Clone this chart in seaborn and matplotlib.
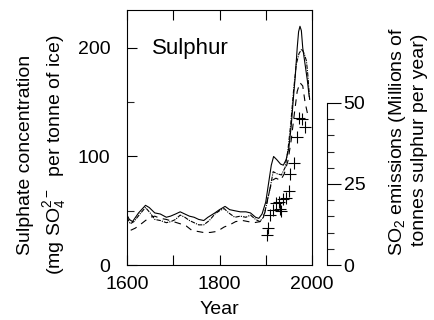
import matplotlib
matplotlib.use("Agg")
import matplotlib.pyplot as plt
from matplotlib.ticker import FixedLocator
import seaborn as sns
import pandas as pd

# sulphate records (mg SO4 per tonne of ice)
years_solid = [1600, 1605, 1612, 1625, 1640, 1648, 1660, 1672, 1685, 1694, 1705, 1715,
               1725, 1735, 1745, 1755, 1766, 1775, 1790, 1800, 1812, 1822, 1833, 1845,
               1857, 1867, 1878, 1885, 1892, 1900, 1906, 1912, 1917, 1924, 1932, 1938,
               1944, 1950, 1955, 1960, 1964, 1968, 1971, 1974, 1977, 1980, 1985, 1990, 1994]
conc_solid = [46, 42, 40, 48, 55, 53, 48, 47, 44, 45, 47, 49,
              47, 45, 44, 42, 41, 44, 48, 51, 54, 51, 50, 49,
              49, 48, 44, 43, 47, 58, 75, 92, 100, 97, 93, 92,
              97, 108, 128, 155, 175, 200, 215, 220, 216, 200, 185, 170, 155]

years_dashdot = [1600, 1607, 1615, 1628, 1640, 1650, 1660, 1672, 1685, 1695, 1705, 1715,
                 1725, 1735, 1745, 1755, 1766, 1778, 1790, 1800, 1810, 1820, 1833, 1845,
                 1857, 1867, 1878, 1887, 1895, 1902, 1910, 1916, 1925, 1934, 1942, 1948,
                 1954, 1960, 1966, 1972, 1978, 1983, 1988, 1991, 1995]
conc_dashdot = [44, 38, 40, 47, 53, 48, 42, 41, 39, 40, 42, 46,
                44, 41, 39, 37, 37, 41, 47, 50, 52, 48, 44, 45,
                44, 46, 42, 40, 44, 56, 72, 86, 84, 83, 90, 106,
                130, 160, 185, 195, 199, 195, 188, 175, 152]

years_dashed = [1608, 1618, 1628, 1640, 1650, 1660, 1672, 1685, 1700, 1715, 1728, 1740,
                1752, 1765, 1780, 1795, 1810, 1822, 1835, 1850, 1862, 1875, 1888, 1898,
                1906, 1914, 1922, 1932, 1940, 1948, 1955, 1962, 1968, 1974, 1980, 1985, 1990]
conc_dashed = [32, 34, 37, 41, 44, 45, 43, 42, 40, 38, 36, 32,
               31, 30, 30, 31, 35, 37, 40, 41, 40, 39, 40, 48,
               65, 78, 80, 78, 84, 96, 115, 140, 160, 168, 165, 150, 140]

# SO2 emissions (millions of tonnes sulphur per year), right-hand scale
emis_years = [1902, 1905, 1910, 1916, 1923, 1928, 1930, 1934, 1938, 1943,
              1950, 1953, 1961, 1967, 1972, 1978, 1985]
emis_values = [9.3, 11.3, 15.4, 17.0, 19.0, 19.3, 17.2, 16.8, 20.3, 20.8,
               22.9, 28.2, 31.4, 39.6, 45.3, 45.1, 42.5]

sns.set_theme(style="ticks")
plt.rcParams["font.family"] = ["Liberation Sans", "DejaVu Sans"]
plt.rcParams["mathtext.fontset"] = "custom"
plt.rcParams["mathtext.rm"] = "Liberation Sans"
plt.rcParams["mathtext.it"] = "Liberation Sans:italic"
plt.rcParams["axes.linewidth"] = 0.8
plt.rcParams["text.color"] = "black"
plt.rcParams["axes.labelcolor"] = "black"

W, H = 434, 320
fig = plt.figure(figsize=(W / 100, H / 100), dpi=100)
ax = fig.add_axes([127 / W, 55 / H, 185 / W, 255 / H])

df_solid = pd.DataFrame({"Year": years_solid, "conc": conc_solid})
df_dd = pd.DataFrame({"Year": years_dashdot, "conc": conc_dashdot})
df_dash = pd.DataFrame({"Year": years_dashed, "conc": conc_dashed})

sns.lineplot(data=df_solid, x="Year", y="conc", color="black", lw=0.8, ax=ax)
sns.lineplot(data=df_dd, x="Year", y="conc", color="black", lw=0.8,
             linestyle=(0, (4, 1, 1, 1)), ax=ax)
sns.lineplot(data=df_dash, x="Year", y="conc", color="black", lw=0.8,
             linestyle=(0, (6, 5)), ax=ax)

ax.set_xlim(1600, 2000)
ax.set_ylim(0, 235)
ax.set_xticks([1600, 1700, 1800, 1900, 2000])
ax.set_xticklabels(["1600", "", "1800", "", "2000"])
ax.set_yticks([0, 100, 200])
ax.yaxis.set_minor_locator(FixedLocator([50, 150]))
ax.tick_params(axis="x", which="major", direction="in", top=True, length=7,
               width=0.8, pad=8, labelsize=14, colors="black")
ax.tick_params(axis="y", which="major", direction="in", right=False, length=7,
               width=0.8, pad=12, labelsize=14, colors="black")
ax.tick_params(axis="y", which="minor", direction="in", right=False, length=5, width=0.8)
for s in ax.spines.values():
    s.set_color("black")
ax.set_xlabel("")
ax.set_ylabel("")
ax.text(1653, 194.5, "Sulphur", fontsize=16, va="baseline", ha="left")

# secondary emission scale, drawn as a detached spine running 0-50
ax2 = ax.twinx()
ax2.set_ylim(0, 235 * 1.085 / 3.24)
sns.scatterplot(x=emis_years, y=emis_values, marker="+", s=80, color="black",
                linewidth=0.8, ax=ax2, clip_on=False, zorder=5)
for side in ["top", "left", "bottom"]:
    ax2.spines[side].set_visible(False)
ax2.spines["right"].set_position(("outward", 15 * 0.72))
ax2.spines["right"].set_bounds(0, 50)
ax2.spines["right"].set_color("black")
ax2.set_yticks([0, 25, 50])
ax2.yaxis.set_minor_locator(FixedLocator(list(range(0, 51, 5))))
ax2.tick_params(axis="y", which="major", direction="out", length=10, width=0.8,
                pad=2, labelsize=14, colors="black")
ax2.tick_params(axis="y", which="minor", direction="out", length=5, width=0.8)
ax2.set_ylabel("")

fig.text(219.5 / W, 1 - 314 / H, "Year", fontsize=14, ha="center", va="baseline")
fig.text(26 / W, 1 - 155 / H, "Sulphate concentration", fontsize=14,
         rotation=90, ha="center", va="center")
fig.text(55 / W, 1 - 155 / H, r"(mg SO$_4^{2-}$  per tonne of ice)", fontsize=14,
         rotation=90, ha="center", va="center")
fig.text(397 / W, 1 - 141 / H, r"SO$_2$ emissions (Millions of", fontsize=14,
         rotation=90, ha="center", va="center")
fig.text(420 / W, 1 - 140 / H, "tonnes sulphur per year)", fontsize=14,
         rotation=90, ha="center", va="center")

fig.savefig("out.png", dpi=100, facecolor="white")
